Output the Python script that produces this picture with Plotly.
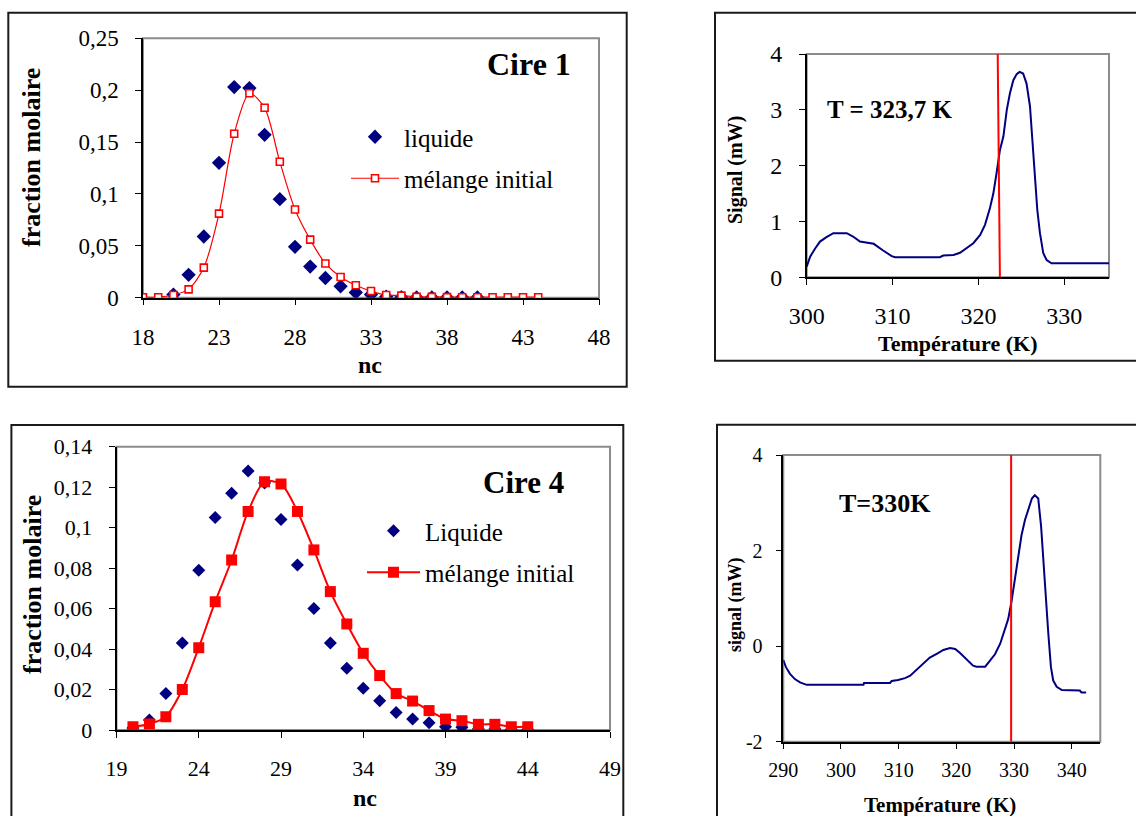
import plotly.graph_objects as go

# ---------------- data ----------------
# Cire 1
nc1_liquide = list(range(20, 41))
liquide1 = [0.003, 0.022, 0.059, 0.130, 0.203, 0.202, 0.157, 0.095, 0.049, 0.030, 0.019,
            0.011, 0.005, 0.003, 0.001, 0.0005, 0.0003, 0.0003, 0.0003, 0.0003, 0.0003]
nc1_initial = list(range(18, 45))
initial1 = [0.0005, 0.0005, 0.0026, 0.008, 0.029, 0.081, 0.158, 0.197, 0.183, 0.131, 0.085,
            0.056, 0.033, 0.020, 0.012, 0.0064, 0.0026, 0.002, 0.0008, 0.0008, 0.0006, 0.0005,
            0.0005, 0.0005, 0.0005, 0.0005, 0.0005]

# Cire 4
nc4 = list(range(20, 45))
liquide4 = [0.001, 0.005, 0.018, 0.043, 0.079, 0.105, 0.117, 0.128, 0.122, 0.104, 0.0815,
            0.060, 0.043, 0.0305, 0.0206, 0.0145, 0.0086, 0.0054, 0.0036, 0.0016, 0.0013,
            0.0005, 0.0005, 0.0002, 0.0001]
initial4 = [0.0016, 0.003, 0.0066, 0.020, 0.0407, 0.0634, 0.084, 0.108, 0.1227, 0.1216, 0.108,
            0.089, 0.0684, 0.0524, 0.0379, 0.0269, 0.018, 0.0143, 0.0096, 0.0054, 0.0046,
            0.0028, 0.0028, 0.0016, 0.0016]

# DSC thermogram 1 (Cire 1)
T1 = [300.0, 300.4, 301.0, 301.55, 302.3, 303.1, 304.66, 305.4, 306.2, 307.8, 308.9, 309.9,
      310.3, 315.5, 315.9, 317.1, 317.85, 318.6, 319.4, 320.2, 320.76, 321.34, 321.73, 322.1,
      322.5, 322.9, 323.3, 323.67, 324.06, 324.45, 324.8, 325.2, 325.6, 326.0, 326.3, 326.6,
      326.85, 327.16, 327.55, 327.94, 328.5, 335.3]
S1 = [0.19, 0.37, 0.52, 0.64, 0.72, 0.79, 0.79, 0.73, 0.64, 0.60, 0.48, 0.38,
      0.36, 0.36, 0.39, 0.40, 0.44, 0.52, 0.61, 0.76, 0.94, 1.24, 1.50, 1.86,
      2.28, 2.52, 3.00, 3.30, 3.53, 3.64, 3.68, 3.65, 3.47, 3.06, 2.46, 1.74,
      1.21, 0.79, 0.43, 0.31, 0.25, 0.25]
cut1_T = [322.24, 322.5]
cut1_S = [4.0, -0.05]

# DSC thermogram 2 (Cire 4)
T2 = [290.0, 290.46, 291.16, 292.0, 292.9, 294.05, 303.9, 304.0, 308.5, 308.8, 309.9, 311.1,
      312.0, 313.1, 314.3, 315.4, 316.6, 317.75, 318.9, 319.8, 320.6, 321.8, 322.9, 323.5,
      325.0, 325.8, 326.7, 327.6, 328.15, 329.0, 329.6, 330.2, 330.75, 331.3, 331.9, 332.5,
      333.1, 333.6, 334.2, 334.7, 335.1, 335.5, 335.95, 336.4, 336.8, 337.4, 338.3, 341.4,
      341.7, 342.5]
S2 = [-0.29, -0.44, -0.58, -0.69, -0.76, -0.81, -0.81, -0.77, -0.77, -0.73, -0.71, -0.67,
      -0.62, -0.50, -0.35, -0.24, -0.16, -0.08, -0.04, -0.06, -0.14, -0.28, -0.41, -0.43,
      -0.43, -0.31, -0.17, 0.05, 0.26, 0.57, 0.96, 1.45, 1.87, 2.32, 2.64, 2.88,
      3.09, 3.16, 3.09, 2.50, 1.73, 0.96, 0.26, -0.44, -0.72, -0.85, -0.92, -0.93,
      -0.97, -0.97]
cut2_T = [329.5, 329.5]
cut2_S = [4.0, -2.0]
signal2_tickvals = [-2, 0, 2, 4]
signal2_ticktext = ["-2", "0", "2", "4"]

# ---------------- styling helpers ----------------
W, H = 1136, 816
def fx(px):
    return px / W
def fy(py):
    return 1 - py / H

SERIF = "Liberation Serif"
NAVY = "#000080"
RED = "#FF0000"

fig = go.Figure()

# Panel 1
fig.add_trace(go.Scatter(x=nc1_liquide, y=liquide1, mode="markers", name="liquide",
                         marker=dict(symbol="diamond", size=11, color=NAVY),
                         xaxis="x", yaxis="y", legend="legend", legendgroup="a"))
fig.add_trace(go.Scatter(x=nc1_initial, y=initial1, mode="lines+markers", name="mélange initial",
                         line=dict(color=RED, width=1.2, shape="spline", smoothing=0.8),
                         marker=dict(symbol="square", size=7, color="white",
                                     line=dict(color=RED, width=1.6)),
                         xaxis="x", yaxis="y", legend="legend", legendgroup="b"))
# Panel 2
fig.add_trace(go.Scatter(x=nc4, y=liquide4, mode="markers", name="Liquide",
                         marker=dict(symbol="diamond", size=10, color=NAVY),
                         xaxis="x2", yaxis="y2", legend="legend2", legendgroup="c"))
fig.add_trace(go.Scatter(x=nc4, y=initial4, mode="lines+markers", name="mélange initial",
                         line=dict(color=RED, width=2, shape="spline", smoothing=0.8),
                         marker=dict(symbol="square", size=11, color=RED),
                         xaxis="x2", yaxis="y2", legend="legend2", legendgroup="d"))
# Panel 3
fig.add_trace(go.Scatter(x=T1, y=S1, mode="lines", line=dict(color=NAVY, width=2),
                         xaxis="x3", yaxis="y3", showlegend=False))
fig.add_trace(go.Scatter(x=cut1_T, y=cut1_S, mode="lines", line=dict(color=RED, width=2),
                         xaxis="x3", yaxis="y3", showlegend=False))
# Panel 4
fig.add_trace(go.Scatter(x=T2, y=S2, mode="lines", line=dict(color=NAVY, width=2),
                         xaxis="x4", yaxis="y4", showlegend=False))
fig.add_trace(go.Scatter(x=cut2_T, y=cut2_S, mode="lines", line=dict(color=RED, width=2),
                         xaxis="x4", yaxis="y4", showlegend=False))

def axis(domain, rng, dtick, tick0, size, standoff, anchor):
    return dict(domain=domain, range=rng, dtick=dtick, tick0=tick0, anchor=anchor,
                showline=True, linecolor="black", linewidth=1.5,
                ticks="outside", ticklen=6, tickcolor="black", tickwidth=1,
                showgrid=False, zeroline=False, automargin=False,
                tickfont=dict(family=SERIF, size=size, color="black"),
                ticklabelstandoff=standoff, fixedrange=True)

y4 = axis([fy(741.7), fy(455)], [-2, 4], 2, -2, 20, 9, "x4")
y4.update(tickmode="array", tickvals=signal2_tickvals, ticktext=signal2_ticktext)

fig.update_layout(
    width=W, height=H, margin=dict(l=0, r=0, t=0, b=0, pad=0, autoexpand=False),
    paper_bgcolor="white", plot_bgcolor="white",
    separators=", ",
    xaxis=axis([fx(143), fx(599)], [18, 48], 5, 18, 23, 12, "y"),
    yaxis=axis([fy(297.7), fy(38.3)], [0, 0.25], 0.05, 0, 23, 12, "x"),
    xaxis2=axis([fx(116.5), fx(610)], [19, 49], 5, 19, 22, 12, "y2"),
    yaxis2=axis([fy(730), fy(446.7)], [0, 0.14], 0.02, 0, 22, 12, "x2"),
    xaxis3=axis([fx(806.7), fx(1109)], [300, 335.2], 10, 300, 24, 10, "y3"),
    yaxis3=axis([fy(277.3), fy(54)], [0, 4], 1, 0, 24, 12, "x3"),
    xaxis4=axis([fx(783.3), fx(1100.3)], [290, 344.96], 10, 290, 20, 4, "y4"),
    yaxis4=y4,
    legend=dict(x=fx(346), y=fy(114), xanchor="left", yanchor="top",
                font=dict(family=SERIF, size=25, color="black"),
                bgcolor="rgba(0,0,0,0)", itemwidth=48, tracegroupgap=6),
    legend2=dict(x=fx(362), y=fy(508), xanchor="left", yanchor="top",
                 font=dict(family=SERIF, size=25, color="black"),
                 bgcolor="rgba(0,0,0,0)", itemwidth=53, tracegroupgap=6),
)

shapes = []
# outer frames
for x0, y0, x1, y1 in [(8.3, 12.7, 626.7, 386.7), (11.4, 425, 623.3, 840),
                       (715, 12.7, 1150, 360.7), (717, 424.7, 1150, 840)]:
    shapes.append(dict(type="rect", xref="paper", yref="paper",
                       x0=fx(x0), x1=fx(x1), y0=fy(y1), y1=fy(y0),
                       line=dict(color="#1a1a1a", width=2), fillcolor="rgba(0,0,0,0)"))
# grey plot-area borders
for xr, yr in [("x", "y"), ("x2", "y2"), ("x3", "y3"), ("x4", "y4")]:
    shapes.append(dict(type="rect", xref=xr + " domain", yref=yr + " domain",
                       x0=0, x1=1, y0=0, y1=1, layer="below",
                       line=dict(color="#8c8c8c", width=2)))
fig.update_layout(shapes=shapes)

ann = []
def text(px, py, s, size, bold=True, angle=0, xanchor="center", yanchor="middle"):
    ann.append(dict(xref="paper", yref="paper", x=fx(px), y=fy(py),
                    text=("<b>%s</b>" % s) if bold else s, showarrow=False,
                    textangle=angle, xanchor=xanchor, yanchor=yanchor,
                    font=dict(family=SERIF, size=size, color="black")))

text(529, 64, "Cire 1", 32)
text(523, 482, "Cire 4", 31)
text(32, 158, "fraction molaire", 26, angle=-90)
text(32, 585, "fraction molaire", 26, angle=-90)
text(370, 365, "nc", 24)
text(365, 798, "nc", 24)
text(889, 110, "T = 323,7 K", 25)
text(885, 503, "T=330K", 26)
text(735, 170, "Signal (mW)", 20, angle=-90)
text(735, 605, "signal (mW)", 18, angle=-90)
text(957, 343, "Température (K)", 22)
text(940, 805, "Température (K)", 21)
fig.update_layout(annotations=ann)

fig.write_html("out.html", config={"displayModeBar": False},
               post_script="document.body.style.margin='0';document.body.style.overflow='hidden';")
